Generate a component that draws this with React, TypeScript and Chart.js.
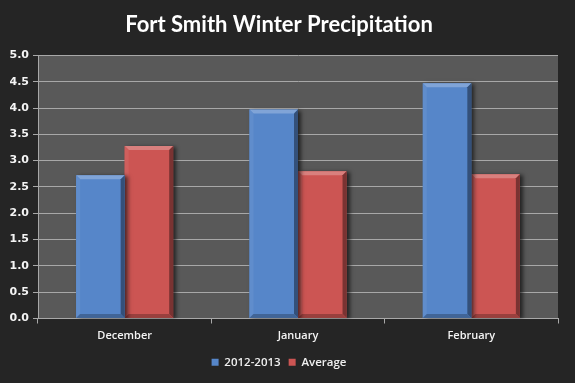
import React, { useEffect, useRef } from "react";
import { Chart, registerables } from "chart.js";

Chart.register(...registerables);

const categories = ["December", "January", "February"];
const series2012 = [2.72, 3.97, 4.47];
const seriesAverage = [3.28, 2.8, 2.74];
const seriesNames = ["2012-2013", "Average"];
const yTicks = { min: 0, max: 5, step: 0.5 };
const titleText = "Fort Smith Winter Precipitation";

const BG = "#252525";
const PLOT_BG = "#595959";
const BLUE = "#5686c9";
const RED = "#cc5553";

function shade(hex: string, amt: number): string {
  const n = parseInt(hex.slice(1), 16);
  let r = (n >> 16) & 255, g = (n >> 8) & 255, b = n & 255;
  const f = (c: number) => Math.max(0, Math.min(255, Math.round(amt >= 0 ? c + (255 - c) * amt : c * (1 + amt))));
  return `rgb(${f(r)},${f(g)},${f(b)})`;
}

const bgPlugin = {
  id: "bgPlugin",
  beforeDraw(chart: any) {
    const { ctx, chartArea } = chart;
    ctx.save();
    ctx.fillStyle = BG;
    ctx.fillRect(0, 0, chart.width, chart.height);
    ctx.fillStyle = PLOT_BG;
    ctx.fillRect(chartArea.left, chartArea.top, chartArea.right - chartArea.left, chartArea.bottom - chartArea.top);
    ctx.restore();
  },
};

const bevelPlugin = {
  id: "bevelPlugin",
  beforeDatasetDraw(chart: any) {
    const ctx = chart.ctx;
    ctx.save();
    ctx.shadowColor = "rgba(0,0,0,0.6)";
    ctx.shadowBlur = 4;
    ctx.shadowOffsetX = 3;
    ctx.shadowOffsetY = 1;
  },
  afterDatasetDraw(chart: any, args: any) {
    const ctx = chart.ctx;
    ctx.restore();
    const meta = chart.getDatasetMeta(args.index);
    const base = chart.data.datasets[args.index].backgroundColor as string;
    ctx.save();
    meta.data.forEach((el: any) => {
      const { x, y, base: b0, width } = el.getProps(["x", "y", "base", "width"], true);
      const l = x - width / 2, r = x + width / 2, t = y, btm = b0;
      const bv = 4;
      ctx.fillStyle = shade(base, 0.25);
      ctx.beginPath();
      ctx.moveTo(l, t); ctx.lineTo(r, t); ctx.lineTo(r - bv, t + bv); ctx.lineTo(l + bv, t + bv); ctx.closePath(); ctx.fill();
      ctx.fillStyle = shade(base, 0.06);
      ctx.beginPath();
      ctx.moveTo(l, t); ctx.lineTo(l + bv, t + bv); ctx.lineTo(l + bv, btm - bv); ctx.lineTo(l, btm); ctx.closePath(); ctx.fill();
      ctx.fillStyle = shade(base, -0.4);
      ctx.beginPath();
      ctx.moveTo(r, t); ctx.lineTo(r - bv, t + bv); ctx.lineTo(r - bv, btm - bv); ctx.lineTo(r, btm); ctx.closePath(); ctx.fill();
      ctx.fillStyle = shade(base, -0.25);
      ctx.beginPath();
      ctx.moveTo(l, btm); ctx.lineTo(l + bv, btm - bv); ctx.lineTo(r - bv, btm - bv); ctx.lineTo(r, btm); ctx.closePath(); ctx.fill();
    });
    ctx.restore();
  },
};

export default function App() {
  const ref = useRef<HTMLCanvasElement>(null);
  useEffect(() => {
    document.body.style.margin = "0";
    const chart = new Chart(ref.current!, {
      type: "bar",
      data: {
        labels: categories,
        datasets: [
          { label: seriesNames[0], data: series2012, backgroundColor: BLUE, borderWidth: 0 },
          { label: seriesNames[1], data: seriesAverage, backgroundColor: RED, borderWidth: 0 },
        ],
      },
      plugins: [bgPlugin, bevelPlugin],
      options: {
        responsive: false,
        animation: false,
        layout: { padding: { left: 0, right: 17, top: 0, bottom: 5 } },
        datasets: { bar: { categoryPercentage: 0.56, barPercentage: 1 } },
        plugins: {
          title: {
            display: true,
            text: titleText,
            color: "#ffffff",
            font: { family: "Lato", weight: "bold", size: 22 },
            padding: { top: 12, bottom: 17 },
          },
          legend: {
            position: "bottom",
            labels: {
              color: "#f0f0f0",
              font: { family: "Open Sans", weight: "600", size: 11.5 },
              boxWidth: 7,
              boxHeight: 7,
              padding: 8,
            },
          },
          tooltip: { enabled: false },
        },
        scales: {
          x: {
            grid: { display: true, drawOnChartArea: false, drawTicks: true, tickLength: 5, color: "#a8a8a8", offset: true },
            border: { color: "#a8a8a8" },
            ticks: { color: "#f4f4f4", font: { family: "Open Sans", weight: "600", size: 11 }, padding: 6 },
            afterFit(scale: any) { scale.height = 30; },
          },
          y: {
            min: yTicks.min,
            max: yTicks.max,
            grid: { color: "#a8a8a8", tickLength: 5 },
            border: { color: "#a8a8a8" },
            ticks: {
              stepSize: yTicks.step,
              color: "#f4f4f4",
              font: { family: "DejaVu Sans", weight: "bold", size: 11 },
              padding: 4,
              callback: (v: any) => Number(v).toFixed(1),
            },
            afterFit(scale: any) { scale.width = 38; },
          },
        },
      },
    } as any);
    return () => chart.destroy();
  }, []);
  return (
    <div style={{ width: 575, height: 383 }}>
      <canvas ref={ref} width={575} height={383} />
    </div>
  );
}
